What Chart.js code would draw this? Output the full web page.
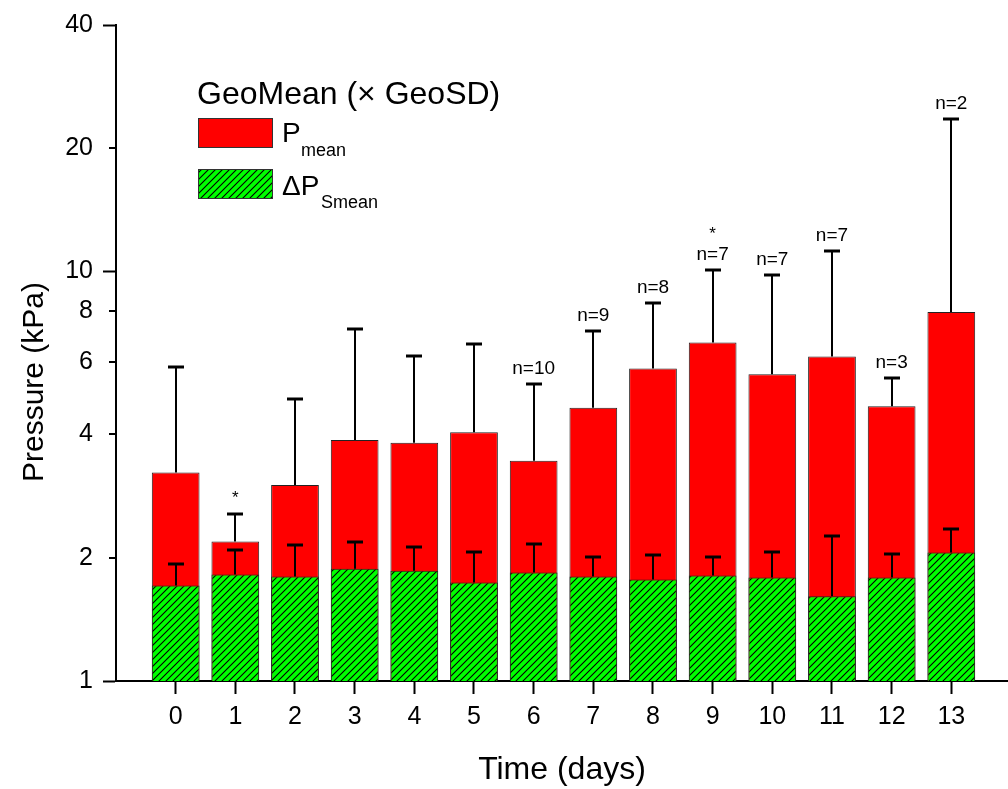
<!DOCTYPE html>
<html>
<head>
<meta charset="utf-8">
<script src="https://cdn.jsdelivr.net/npm/chart.js@4"></script>
<style>
  html, body { margin: 0; padding: 0; background: #fff; }
</style>
</head>
<body>
<canvas id="pressure-chart" width="1008" height="789"></canvas>
<script>
const days = [0, 1, 2, 3, 4, 5, 6, 7, 8, 9, 10, 11, 12, 13];
// geometric means and mean x GeoSD (upper whisker)
const pMean      = [3.23, 2.19, 3.01, 3.88, 3.82, 4.05, 3.45, 4.65, 5.80, 6.71, 5.61, 6.20, 4.69, 7.97];
const pMeanUpper = [5.83, 2.56, 4.88, 7.25, 6.23, 6.67, 5.30, 7.15, 8.38, 10.1, 9.80, 11.25, 5.48, 23.6];
const dpMean     = [1.71, 1.82, 1.80, 1.88, 1.86, 1.74, 1.84, 1.80, 1.77, 1.81, 1.79, 1.61, 1.79, 2.06];
const dpUpper    = [1.93, 2.09, 2.15, 2.18, 2.12, 2.07, 2.16, 2.01, 2.03, 2.01, 2.07, 2.26, 2.04, 2.35];
const nLabels = ['', '', '', '', '', '', 'n=10', 'n=9', 'n=8', 'n=7', 'n=7', 'n=7', 'n=3', 'n=2'];
const stars   = ['', '*', '', '', '', '', '', '', '', '*', '', '', '', ''];
const yTicks = [1, 2, 4, 6, 8, 10, 20, 40];
const majorTicks = [1, 10, 40];

const FONT = "'Liberation Sans', Arial, sans-serif";

function makeHatch() {
    const c = document.createElement('canvas');
    c.width = 7; c.height = 7;
    const g = c.getContext('2d');
    g.fillStyle = '#00ff00';
    g.fillRect(0, 0, 7, 7);
    g.strokeStyle = '#000';
    g.lineWidth = 1.1;
    g.beginPath();
    g.moveTo(-1, 8); g.lineTo(8, -1);
    g.moveTo(-1, 1); g.lineTo(1, -1);
    g.moveTo(6, 8); g.lineTo(8, 6);
    g.stroke();
    return g.createPattern(c, 'repeat');
}
const hatch = makeHatch();

const errorBars = {
    id: 'errorBars',
    afterDatasetsDraw(chart) {
        const {ctx, scales: {x, y}} = chart;
        ctx.save();
        ctx.strokeStyle = '#000';
        const drawBar = (xv, lo, hi) => {
            const px = Math.round(x.getPixelForValue(xv));
            const y0 = y.getPixelForValue(lo), y1 = Math.round(y.getPixelForValue(hi));
            ctx.lineWidth = 2;
            ctx.beginPath(); ctx.moveTo(px, y0); ctx.lineTo(px, y1); ctx.stroke();
            ctx.lineWidth = 3;
            ctx.beginPath(); ctx.moveTo(px - 8, y1); ctx.lineTo(px + 8, y1); ctx.stroke();
        };
        days.forEach((d, i) => {
            drawBar(d, pMean[i], pMeanUpper[i]);
            drawBar(d, dpMean[i], dpUpper[i]);
        });

        // n= and significance marks above the whiskers
        ctx.fillStyle = '#000';
        ctx.textAlign = 'center';
        ctx.textBaseline = 'alphabetic';
        days.forEach((d, i) => {
            const px = x.getPixelForValue(d);
            const top = y.getPixelForValue(pMeanUpper[i]);
            let starBase = top - 11;
            if (nLabels[i]) {
                ctx.font = '19px ' + FONT;
                ctx.fillText(nLabels[i], px, top - 10);
                starBase = top - 31;
            }
            if (stars[i]) {
                ctx.font = '17px ' + FONT;
                ctx.fillText(stars[i], px, starBase);
            }
        });
        ctx.restore();
    },
    afterDraw(chart) {
        const ctx = chart.ctx;
        ctx.save();
        ctx.fillStyle = '#000';
        ctx.textAlign = 'left';
        ctx.textBaseline = 'alphabetic';
        ctx.font = '32px ' + FONT;
        ctx.fillText('GeoMean (\u00d7 GeoSD)', 197, 104);

        ctx.strokeStyle = '#333';
        ctx.lineWidth = 1;
        ctx.fillStyle = '#ff0000';
        ctx.fillRect(198.5, 118.5, 74, 29);
        ctx.strokeRect(198.5, 118.5, 74, 29);
        ctx.fillStyle = hatch;
        ctx.fillRect(198.5, 169.5, 74, 29);
        ctx.strokeRect(198.5, 169.5, 74, 29);

        ctx.fillStyle = '#000';
        ctx.font = '28px ' + FONT;
        ctx.fillText('P', 282, 142);
        ctx.fillText('\u0394P', 282, 195);
        ctx.font = '18px ' + FONT;
        ctx.fillText('mean', 301, 156);
        ctx.fillText('Smean', 321, 208);

        // y axis title
        ctx.translate(35, 382);
        ctx.rotate(-Math.PI / 2);
        ctx.textAlign = 'center';
        ctx.textBaseline = 'middle';
        ctx.font = '30px ' + FONT;
        ctx.fillText('Pressure (kPa)', 0, 0);
        ctx.restore();
    }
};

const barCommon = {
    borderColor: '#222',
    borderWidth: 1,
    categoryPercentage: 1,
    barPercentage: 0.8,
    grouped: false
};

new Chart(document.getElementById('pressure-chart'), {
    type: 'bar',
    data: {
        datasets: [
            Object.assign({
                label: '\u0394P Smean',
                data: days.map((d, i) => ({x: d, y: dpMean[i]})),
                backgroundColor: hatch,
                order: 1
            }, barCommon),
            Object.assign({
                label: 'P mean',
                data: days.map((d, i) => ({x: d, y: pMean[i]})),
                backgroundColor: '#ff0000',
                order: 2
            }, barCommon)
        ]
    },
    options: {
        responsive: false,
        animation: false,
        devicePixelRatio: 1,
        layout: { padding: { top: 20, left: 0, right: 0, bottom: 0 } },
        plugins: {
            legend: { display: false },
            tooltip: { enabled: false }
        },
        scales: {
            x: {
                type: 'linear',
                min: -1,
                max: 13.95,
                offset: false,
                afterBuildTicks: s => { s.ticks = days.map(v => ({value: v})); },
                afterFit: s => { s.height = 108; },
                grid: { offset: false, drawOnChartArea: false, tickLength: 13, tickWidth: 2, tickColor: '#000' },
                border: { color: '#000', width: 2 },
                ticks: {
                    color: '#000',
                    autoSkip: false,
                    maxRotation: 0,
                    padding: 8,
                    font: { family: FONT, size: 25 }
                },
                title: {
                    display: true,
                    text: 'Time (days)',
                    color: '#000',
                    padding: 0,
                    font: { family: FONT, size: 32, lineHeight: 1.2 }
                }
            },
            y: {
                type: 'logarithmic',
                min: 1,
                max: 40,
                afterBuildTicks: s => { s.ticks = yTicks.map(v => ({value: v})); },
                afterFit: s => { s.width = 116; },
                grid: {
                    drawOnChartArea: false,
                    tickLength: 13,
                    tickWidth: 2,
                    tickColor: ctx => majorTicks.includes(ctx.tick.value) ? '#000' : 'rgba(0,0,0,0)'
                },
                border: { color: '#000', width: 2 },
                ticks: {
                    color: '#000',
                    padding: 10,
                    font: { family: FONT, size: 25 },
                    callback: v => String(v)
                }
            }
        }
    },
    plugins: [errorBars, {
        // short minor ticks on the y axis
        id: 'minorTicks',
        afterDraw(chart) {
            const {ctx, scales: {y}, chartArea} = chart;
            ctx.save();
            ctx.strokeStyle = '#000';
            ctx.lineWidth = 2;
            yTicks.filter(v => !majorTicks.includes(v)).forEach(v => {
                const py = Math.round(y.getPixelForValue(v));
                ctx.beginPath();
                ctx.moveTo(chartArea.left - 7, py);
                ctx.lineTo(chartArea.left, py);
                ctx.stroke();
            });
            ctx.restore();
        }
    }]
});
</script>
</body>
</html>
